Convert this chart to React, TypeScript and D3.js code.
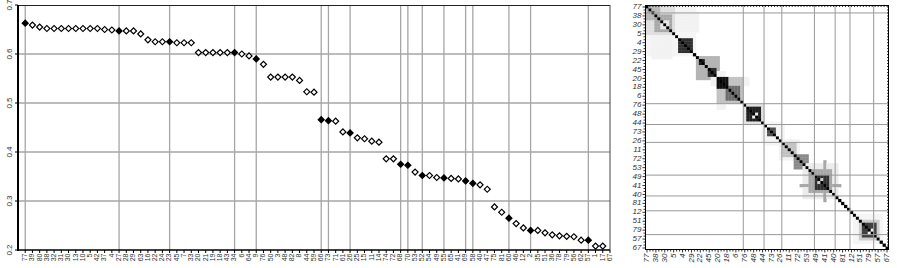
import React from "react";
import * as d3 from "d3";

const labels = [77,39,80,38,32,31,30,13,10,5,42,37,4,27,28,29,63,16,22,24,23,45,7,33,20,21,19,18,43,34,6,64,9,76,50,3,48,82,8,44,59,66,73,71,61,26,25,15,11,14,74,72,68,70,53,52,54,49,55,65,41,69,58,40,47,75,81,60,46,12,2,35,51,36,78,79,56,62,57,1,17,67];

const values: (number | null)[] = [0.663,0.659,0.655,0.652,0.652,0.652,0.652,0.652,0.652,0.652,0.652,0.650,0.649,0.647,0.647,0.647,0.641,0.629,0.625,0.625,0.625,0.623,0.623,0.623,0.603,0.603,0.603,0.603,0.603,0.603,0.600,0.596,0.590,0.579,0.553,0.553,0.553,0.553,0.546,0.523,0.522,0.466,0.464,0.463,0.441,0.439,0.429,0.427,0.422,0.420,0.386,0.386,0.375,0.373,0.359,0.352,0.352,0.348,0.347,0.346,0.345,0.341,0.336,0.333,0.324,0.288,0.277,0.265,0.254,0.245,0.240,0.240,0.235,0.231,0.229,0.228,0.227,0.220,0.220,0.208,0.208,null];

const highlighted = [0,13,20,29,32,41,42,45,52,53,55,58,61,62,67,70,78];

const yTicks = [0.2,0.3,0.4,0.5,0.6,0.7];

// matrix blocks: [rowStart, rowEnd, colStart, colEnd, value], applied symmetrically, later wins
const matrixBlocks: number[][] = [
  [0, 16, 10, 16, 0.08],
  [10, 17, 2, 8, 0.1],
  [0, 9, 0, 9, 0.22],
  [0, 4, 0, 4, 0.4],
  [3, 8, 3, 8, 0.45],
  [5, 7, 5, 7, 0.18],
  [11, 15, 11, 15, 0.85],
  [17, 24, 17, 24, 0.4],
  [18, 19, 18, 19, 0.9],
  [21, 23, 21, 23, 0.85],
  [22, 34, 24, 26, 0.1],
  [24, 32, 24, 32, 0.35],
  [24, 27, 24, 27, 0.95],
  [27, 31, 27, 31, 0.65],
  [33, 39, 33, 39, 0.2],
  [34, 38, 34, 38, 0.9],
  [36, 37, 36, 37, 0.15],
  [39, 46, 40, 45, 0.08],
  [41, 43, 41, 43, 0.75],
  [45, 51, 45, 51, 0.1],
  [46, 50, 46, 50, 0.35],
  [50, 54, 50, 54, 0.55],
  [53, 64, 53, 64, 0.15],
  [55, 62, 55, 62, 0.45],
  [52, 65, 60, 60, 0.45],
  [57, 61, 57, 61, 0.85],
  [58, 59, 58, 59, 0.3],
  [70, 79, 70, 79, 0.08],
  [72, 78, 72, 78, 0.3],
  [73, 77, 73, 77, 0.8],
  [75, 76, 75, 76, 0.1],
];

const matrixSeparators = [33, 40, 46, 57, 64, 69, 77];
const matrixExtraRowSeparators = [2.5];

const N = labels.length;

export default function App() {
  const L = { x0: 18, x1: 610, y0: 5, y1: 250 };
  const x = d3.scaleLinear().domain([-1, N - 1]).range([L.x0, L.x1]);
  const y = d3.scaleLinear().domain([0.2, 0.7]).range([L.y1, L.y0]);

  const M = { x0: 645.5, x1: 888.5, y0: 5.5, y1: 249.5 };
  const idx = d3.range(N);
  const mx = d3.scaleBand<number>().domain(idx).range([M.x0, M.x1]);
  const my = d3.scaleBand<number>().domain(idx).range([M.y0, M.y1]);
  const cw = mx.bandwidth();
  const ch = my.bandwidth();
  const color = (v: number) => d3.interpolateGreys(v);

  const grid: number[][] = idx.map(() => idx.map(() => 0));
  matrixBlocks.forEach(([r0, r1, c0, c1, v]) => {
    for (let r = r0; r <= r1; r++)
      for (let c = c0; c <= c1; c++) {
        grid[r][c] = v;
        grid[c][r] = v;
      }
  });
  idx.forEach((i) => (grid[i][i] = 1));

  const diamond = d3.symbol().type(d3.symbolSquare).size(18)();
  const font = "Liberation Sans, Arial, sans-serif";

  const cells: JSX.Element[] = [];
  idx.forEach((r) =>
    idx.forEach((c) => {
      const v = grid[r][c];
      if (v > 0.02)
        cells.push(
          <rect key={`${r}-${c}`} x={mx(c)} y={my(r)} width={cw + 0.3} height={ch + 0.3} fill={color(v)} />
        );
    })
  );

  return (
    <svg width={897} height={268} style={{ position: "absolute", left: 0, top: 0, background: "#fff" }} fontFamily={font}>
      <g>
        {yTicks.filter((t) => t > 0.2 && t < 0.7).map((t) => (
          <line key={t} x1={L.x0} x2={L.x1} y1={y(t)} y2={y(t)} stroke="#a6a6a6" strokeWidth={1.3} />
        ))}
        {highlighted.map((i) => (
          <line key={i} x1={x(i)} x2={x(i)} y1={L.y0} y2={L.y1} stroke="#a6a6a6" strokeWidth={1.3} />
        ))}
        <line x1={L.x0} x2={L.x1} y1={L.y0 + 0.5} y2={L.y0 + 0.5} stroke="#222" strokeWidth={1} />
        <line x1={L.x1} x2={L.x1} y1={L.y0} y2={L.y1} stroke="#444" strokeWidth={1} />
        <line x1={L.x0} x2={L.x0} y1={L.y0} y2={L.y1 + 1} stroke="#000" strokeWidth={2} />
        <line x1={L.x0} x2={L.x1} y1={L.y1} y2={L.y1} stroke="#000" strokeWidth={1.5} />
        {yTicks.map((t) => (
          <g key={t}>
            <line x1={L.x0 - 3} x2={L.x0} y1={y(t)} y2={y(t)} stroke="#000" />
            <text transform={`translate(${10},${y(t)}) rotate(-90)`} textAnchor="middle" dominantBaseline="middle" fontSize={8} fill="#333">
              {t.toFixed(1)}
            </text>
          </g>
        ))}
        {labels.map((lab, i) => (
          <g key={i}>
            <line x1={x(i)} x2={x(i)} y1={L.y1} y2={L.y1 + 3} stroke="#000" />
            <text transform={`translate(${x(i)},${L.y1 + 3.5}) rotate(-90)`} textAnchor="end" dominantBaseline="middle" fontSize={7} fill="#333">
              {lab}
            </text>
          </g>
        ))}
        {values.map((v, i) =>
          v == null ? null : (
            <path
              key={i}
              d={diamond}
              transform={`translate(${x(i)},${y(v)}) rotate(45)`}
              fill={highlighted.includes(i) ? "#000" : "#fff"}
              stroke="#000"
              strokeWidth={1.2}
            />
          )
        )}
      </g>

      <g>
        {cells}
        {matrixSeparators.map((s) => (
          <line key={"v" + s} x1={M.x0 + s * cw} x2={M.x0 + s * cw} y1={M.y0} y2={M.y1} stroke="#999" strokeWidth={1} />
        ))}
        {[...matrixExtraRowSeparators, ...matrixSeparators].map((s) => (
          <line key={"h" + s} x1={M.x0} x2={M.x1} y1={M.y0 + s * ch} y2={M.y0 + s * ch} stroke="#999" strokeWidth={1} />
        ))}
        <rect x={M.x0} y={M.y0} width={M.x1 - M.x0} height={M.y1 - M.y0} fill="none" stroke="#000" strokeWidth={1} />
        {idx.map((i) => (
          <g key={"t" + i}>
            <line x1={M.x0 - (i % 3 === 0 ? 3 : 2)} x2={M.x0} y1={(my(i) as number) + ch / 2} y2={(my(i) as number) + ch / 2} stroke="#000" strokeWidth={0.8} />
            <line x1={(mx(i) as number) + cw / 2} x2={(mx(i) as number) + cw / 2} y1={M.y1} y2={M.y1 + (i % 3 === 0 ? 3 : 2)} stroke="#000" strokeWidth={0.8} />
            <line x1={M.x1} x2={M.x1 - 1.5} y1={(my(i) as number) + ch / 2} y2={(my(i) as number) + ch / 2} stroke="#000" strokeWidth={0.8} />
            <line x1={(mx(i) as number) + cw / 2} x2={(mx(i) as number) + cw / 2} y1={M.y0} y2={M.y0 + 1.5} stroke="#000" strokeWidth={0.8} />
          </g>
        ))}
        {idx.filter((i) => i % 3 === 0).map((i) => (
          <g key={"l" + i}>
            <text x={M.x0 - 4} y={(my(i) as number) + ch / 2} textAnchor="end" dominantBaseline="middle" fontSize={8} fontStyle="italic" fill="#333">
              {labels[i]}
            </text>
            <text transform={`translate(${(mx(i) as number) + cw / 2},${M.y1 + 4}) rotate(-90)`} textAnchor="end" dominantBaseline="middle" fontSize={8} fontStyle="italic" fill="#333">
              {labels[i]}
            </text>
          </g>
        ))}
      </g>
    </svg>
  );
}
